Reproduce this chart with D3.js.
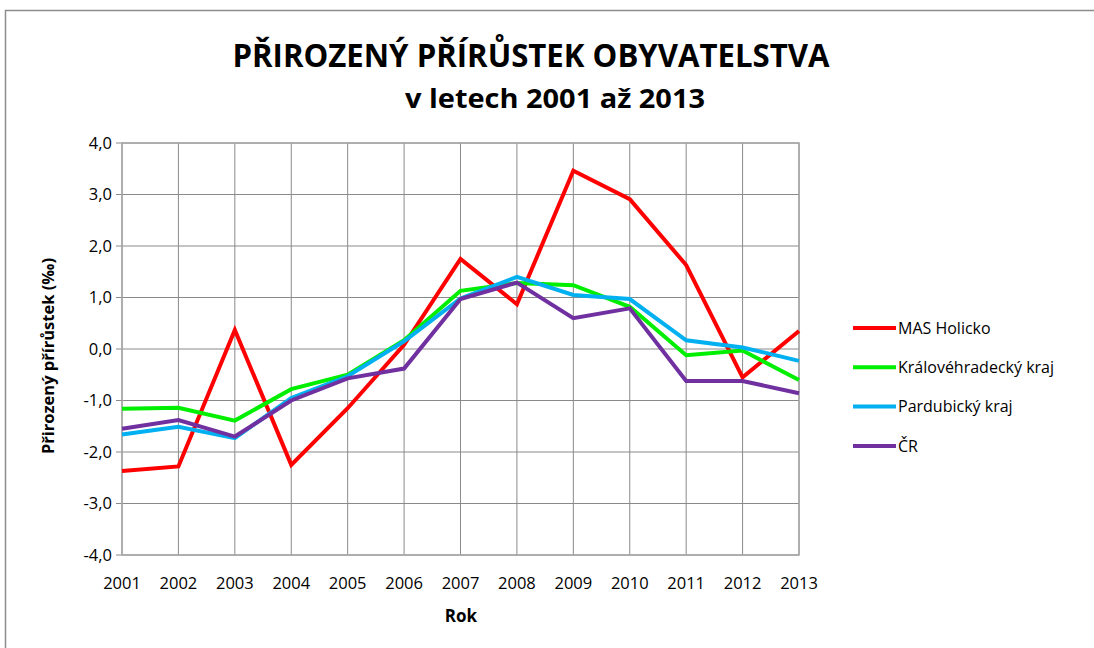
<!DOCTYPE html>
<html>
<head>
<meta charset="utf-8">
<script src="https://cdn.jsdelivr.net/npm/d3@7"></script>
<style>
  body { margin: 0; background: #fff; }
  text { font-family: "Open Sans", "Noto Sans", sans-serif; fill: #000; }
</style>
</head>
<body>
<svg id="chart"></svg>
<script>
const years = [2001, 2002, 2003, 2004, 2005, 2006, 2007, 2008, 2009, 2010, 2011, 2012, 2013];
const masHolicko = [-2.37, -2.28, 0.37, -2.25, -1.15, 0.08, 1.75, 0.87, 3.46, 2.91, 1.63, -0.55, 0.35];
const kralovehradecky = [-1.16, -1.14, -1.39, -0.78, -0.50, 0.17, 1.13, 1.28, 1.24, 0.82, -0.12, -0.03, -0.60];
const pardubicky = [-1.66, -1.51, -1.73, -0.95, -0.53, 0.15, 0.98, 1.40, 1.05, 0.97, 0.17, 0.03, -0.23];
const cr = [-1.55, -1.38, -1.70, -1.00, -0.57, -0.38, 0.97, 1.29, 0.60, 0.79, -0.62, -0.62, -0.86];
const yTicks = [-4, -3, -2, -1, 0, 1, 2, 3, 4];

const series = [
  { name: "MAS Holicko", values: masHolicko, color: "#ff0000" },
  { name: "Královéhradecký kraj", values: kralovehradecky, color: "#00ee00" },
  { name: "Pardubický kraj", values: pardubicky, color: "#00b0f0" },
  { name: "ČR", values: cr, color: "#7030a0" }
];

const width = 1094, height = 648;
const svg = d3.select("#chart").attr("width", width).attr("height", height);

// outer chart frame
svg.append("rect")
  .attr("x", 5.5).attr("y", 10.5)
  .attr("width", width + 10).attr("height", height + 10)
  .attr("fill", "none").attr("stroke", "#8c8c8c").attr("stroke-width", 1.5);

const plotLeft = 122, plotRight = 799, plotTop = 143, plotBottom = 555;

const x = d3.scalePoint().domain(years).range([plotLeft, plotRight]);
const y = d3.scaleLinear().domain([-4, 4]).range([plotBottom, plotTop]);

// gridlines
svg.append("g")
  .selectAll("line")
  .data(yTicks)
  .join("line")
  .attr("x1", plotLeft - 6).attr("x2", plotRight)
  .attr("y1", d => y(d)).attr("y2", d => y(d))
  .attr("stroke", "#8a8a8a").attr("stroke-width", 1);

svg.append("g")
  .selectAll("line")
  .data(years)
  .join("line")
  .attr("x1", d => x(d)).attr("x2", d => x(d))
  .attr("y1", plotTop).attr("y2", plotBottom)
  .attr("stroke", "#8a8a8a").attr("stroke-width", 1);

// plot border
svg.append("rect")
  .attr("x", plotLeft).attr("y", plotTop)
  .attr("width", plotRight - plotLeft).attr("height", plotBottom - plotTop)
  .attr("fill", "none").attr("stroke", "#a6a6a6").attr("stroke-width", 1.5);

// y tick labels
svg.append("g")
  .selectAll("text")
  .data(yTicks)
  .join("text")
  .attr("x", plotLeft - 10)
  .attr("y", d => y(d))
  .attr("dy", "0.35em")
  .attr("text-anchor", "end")
  .style("font-size", "16.5px")
  .text(d => d3.format(".1f")(d).replace(".", ",").replace("−", "-"));

// x tick labels
svg.append("g")
  .selectAll("text")
  .data(years)
  .join("text")
  .attr("x", d => x(d))
  .attr("y", 589)
  .attr("text-anchor", "middle")
  .style("font-size", "16.5px")
  .text(d => d);

// lines
const line = d3.line()
  .x((d, i) => x(years[i]))
  .y(d => y(d));

svg.append("g")
  .selectAll("path")
  .data(series)
  .join("path")
  .attr("d", d => line(d.values))
  .attr("fill", "none")
  .attr("stroke", d => d.color)
  .attr("stroke-width", 4)
  .attr("stroke-linejoin", "miter");

// titles
svg.append("text")
  .attr("x", 531).attr("y", 67)
  .attr("text-anchor", "middle")
  .style("font-size", "32px").style("font-weight", "bold")
  .attr("textLength", 597).attr("lengthAdjust", "spacingAndGlyphs")
  .text("PŘIROZENÝ PŘÍRŮSTEK OBYVATELSTVA");

svg.append("text")
  .attr("x", 555).attr("y", 108)
  .attr("text-anchor", "middle")
  .style("font-size", "27px").style("font-weight", "bold")
  .attr("textLength", 300).attr("lengthAdjust", "spacingAndGlyphs")
  .text("v letech 2001 až 2013");

svg.append("text")
  .attr("x", 461).attr("y", 622)
  .attr("text-anchor", "middle")
  .style("font-size", "17px").style("font-weight", "bold")
  .text("Rok");

svg.append("text")
  .attr("transform", `translate(54, ${(plotTop + plotBottom) / 2 + 7}) rotate(-90)`)
  .attr("text-anchor", "middle")
  .style("font-size", "16px").style("font-weight", "bold")
  .attr("textLength", 196).attr("lengthAdjust", "spacingAndGlyphs")
  .text("Přirozený přírůstek (‰)");

// legend
const legend = svg.append("g")
  .selectAll("g")
  .data(series)
  .join("g")
  .attr("transform", (d, i) => `translate(853, ${328 + i * 39.3})`);

legend.append("line")
  .attr("x1", 0).attr("x2", 43)
  .attr("stroke", d => d.color).attr("stroke-width", 4);

legend.append("text")
  .attr("x", 45).attr("dy", "0.35em")
  .style("font-size", "16px")
  .text(d => d.name);
</script>
</body>
</html>
